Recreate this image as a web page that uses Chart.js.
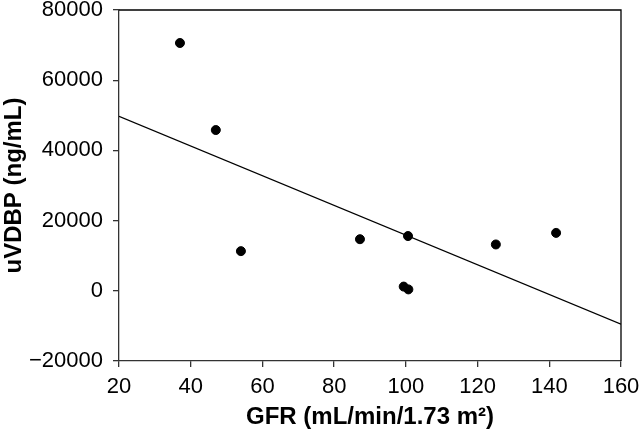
<!DOCTYPE html>
<html>
<head>
<meta charset="utf-8">
<script src="https://cdn.jsdelivr.net/npm/chart.js@4.4.0/dist/chart.umd.min.js"></script>
<style>
    html, body { margin: 0; padding: 0; background: #fff; }
    #wrap { width: 640px; height: 432px; }
</style>
</head>
<body>
<div id="wrap"><canvas id="scatterChart" width="640" height="432"></canvas></div>
<script>
// values
const gfr = [37.0, 47.0, 54.0, 87.2, 100.6, 99.4, 100.7, 125.1, 141.9];
const uvdbp = [70600, 45800, 11300, 14700, 15600, 1200, 400, 13200, 16500];
// regression line endpoints
const fitX = [20, 160];
const fitY = [49700, -9500];
// tick labels
const xTicks = [20, 40, 60, 80, 100, 120, 140, 160];
const yTicks = [-20000, 0, 20000, 40000, 60000, 80000];

const tickFont = { family: 'Liberation Sans, Arial, sans-serif', size: 22 };
const titleFont = { family: 'Liberation Sans, Arial, sans-serif', size: 24, weight: 'bold' };

function formatTick(val) {
    return val < 0 ? '\u2212' + Math.abs(val) : String(val);
}

// draw top and right borders of the plot box
const boxPlugin = {
    id: 'box',
    afterDraw(chart) {
        const a = chart.chartArea;
        const ctx = chart.ctx;
        ctx.save();
        ctx.strokeStyle = '#000';
        ctx.lineWidth = 1.3;
        ctx.beginPath();
        ctx.moveTo(a.left, a.top);
        ctx.lineTo(a.right, a.top);
        ctx.lineTo(a.right, a.bottom);
        ctx.stroke();
        ctx.restore();
    }
};

const ctx = document.getElementById('scatterChart').getContext('2d');
new Chart(ctx, {
    type: 'scatter',
    data: {
        datasets: [{
            label: 'uVDBP',
            data: gfr.map((x, i) => ({ x: x, y: uvdbp[i] })),
            backgroundColor: '#000',
            borderColor: '#000',
            pointRadius: 4.5,
            pointHoverRadius: 4.5
        }, {
            label: 'fit',
            type: 'line',
            data: fitX.map((x, i) => ({ x: x, y: fitY[i] })),
            borderColor: '#000',
            borderWidth: 1.3,
            pointRadius: 0,
            fill: false
        }]
    },
    options: {
        responsive: false,
        animation: false,
        layout: { padding: { top: 10, right: 19, left: 0, bottom: 0 } },
        plugins: {
            legend: { display: false },
            tooltip: { enabled: false }
        },
        scales: {
            x: {
                type: 'linear',
                min: 20,
                max: 160,
                afterBuildTicks: (axis) => { axis.ticks = xTicks.map(v => ({ value: v })); },
                afterFit: (axis) => { axis.height = 71; axis.paddingLeft = 0; axis.paddingRight = 0; },
                border: { display: true, color: '#333', width: 1.3 },
                grid: { drawOnChartArea: false, drawTicks: true, tickLength: 6, color: '#333', lineWidth: 1.3 },
                ticks: { color: '#000', font: tickFont, padding: 7, maxRotation: 0, callback: formatTick },
                title: { display: true, text: 'GFR (mL/min/1.73 m\u00b2)', color: '#000', font: titleFont, padding: { top: 0, bottom: 0 } }
            },
            y: {
                type: 'linear',
                min: -20000,
                max: 80000,
                afterBuildTicks: (axis) => { axis.ticks = yTicks.map(v => ({ value: v })); },
                afterFit: (axis) => { axis.width = 119; axis.paddingTop = 0; axis.paddingBottom = 0; },
                border: { display: true, color: '#333', width: 1.3 },
                grid: { drawOnChartArea: false, drawTicks: true, tickLength: 6, color: '#333', lineWidth: 1.3 },
                ticks: { color: '#000', font: tickFont, padding: 10, callback: formatTick },
                title: { display: true, text: 'uVDBP (ng/mL)', color: '#000', font: titleFont, padding: { top: 0, bottom: 0 } }
            }
        }
    },
    plugins: [boxPlugin]
});
</script>
</body>
</html>
